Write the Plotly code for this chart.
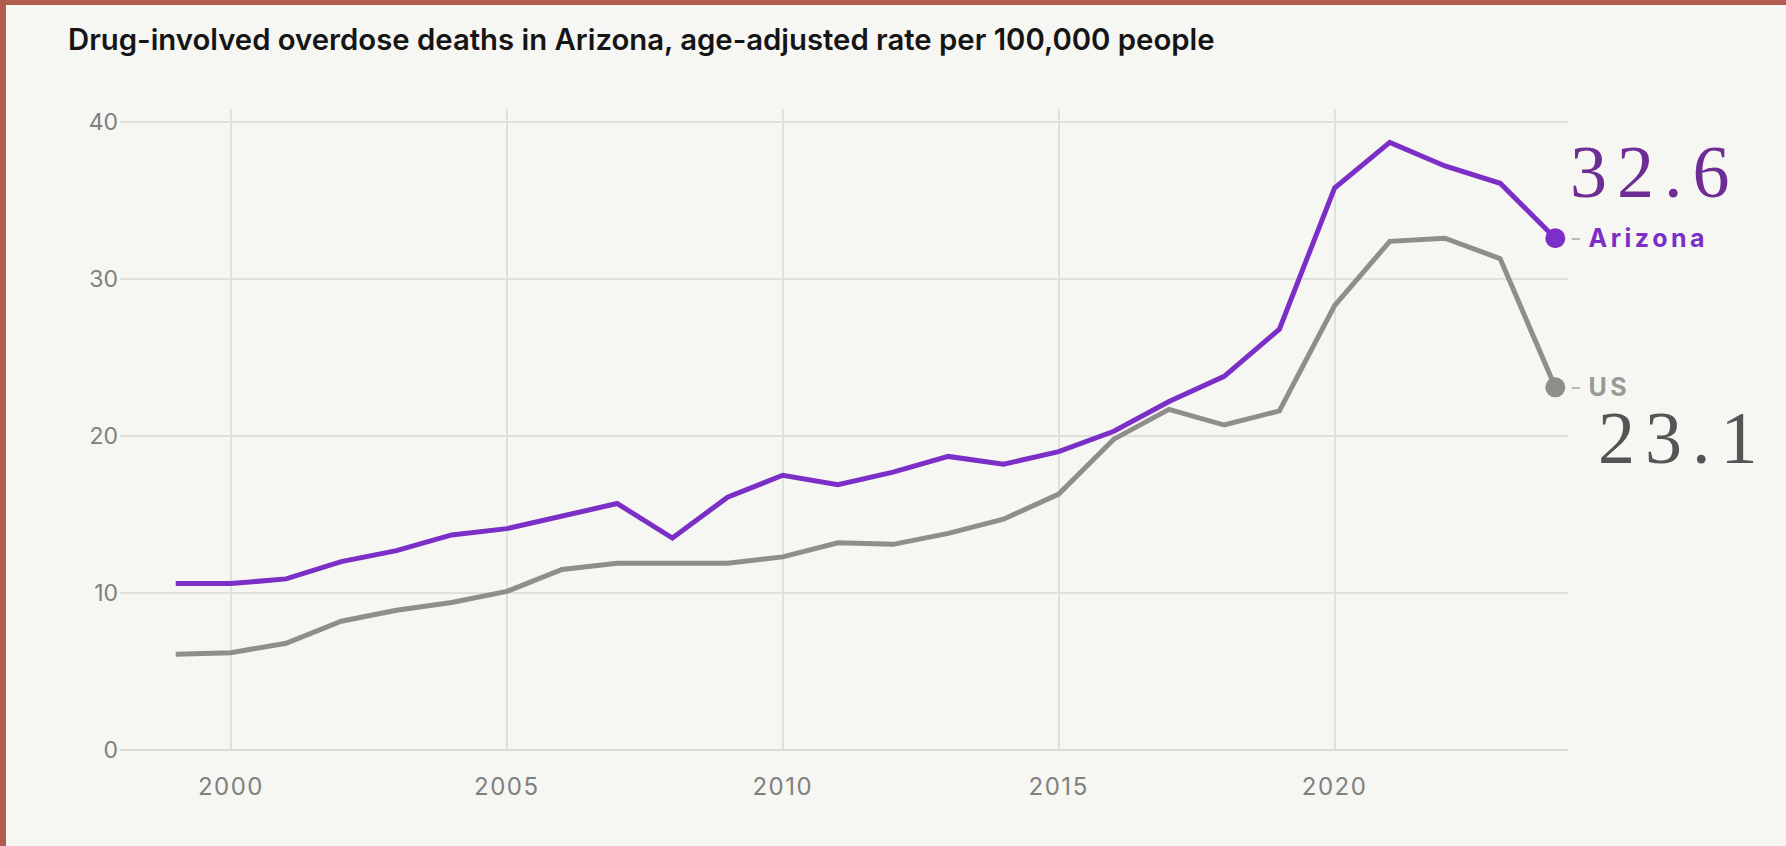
import plotly.graph_objects as go

# данные
years = list(range(1999, 2025))
arizona = [10.6, 10.6, 10.9, 12.0, 12.7, 13.7, 14.1, 14.9, 15.7, 13.5,
           16.1, 17.5, 16.9, 17.7, 18.7, 18.2, 19.0, 20.3, 22.2, 23.8,
           26.8, 35.8, 38.7, 37.2, 36.1, 32.6]
us = [6.1, 6.2, 6.8, 8.2, 8.9, 9.4, 10.1, 11.5, 11.9, 11.9,
      11.9, 12.3, 13.2, 13.1, 13.8, 14.7, 16.3, 19.8, 21.7, 20.7,
      21.6, 28.3, 32.4, 32.6, 31.3, 23.1]
x_ticks = [2000, 2005, 2010, 2015, 2020]
y_ticks = [0, 10, 20, 30, 40]
title = "Drug-involved overdose deaths in Arizona, age-adjusted rate per 100,000 people"

BG = "#f6f6f2"
BORDER = "#b15c4e"
PURPLE = "#7c2fc6"
GRAY = "#8e8e8a"
GRID = "#e1e1dc"
W, H = 1786, 846
L, R, T, B = 120, 218, 109, 96

fig = go.Figure()

for vals, color in [(us, GRAY), (arizona, PURPLE)]:
    fig.add_trace(go.Scatter(
        x=years, y=vals, mode="lines",
        line=dict(color=color, width=5), hoverinfo="x+y",
    ))
    fig.add_trace(go.Scatter(
        x=[years[-1]], y=[vals[-1]], mode="markers",
        marker=dict(color=color, size=20), hoverinfo="x+y", cliponaxis=False,
    ))

# подписи серий
labels = [
    (arizona, "Arizona", PURPLE, "#6e2c95", 100, 66),
    (us, "US", "#999996", "#555555", 128, -51),
]
for vals, name, c_name, c_val, dx, dy in labels:
    fig.add_annotation(
        x=years[-1], y=vals[-1], xref="x", yref="y", xshift=13, xanchor="left",
        text=f"<span style='color:#b8b8b4'>-</span> <b><span style='letter-spacing:3.5px'>{name}</span></b>",
        showarrow=False, font=dict(family="Inter", size=25, color=c_name),
    )
    fig.add_annotation(
        x=years[-1], y=vals[-1], xref="x", yref="y", xshift=dx, yshift=dy,
        text=f"<span style='letter-spacing:10px'>{vals[-1]:.1f}</span>",
        showarrow=False, font=dict(family="Liberation Serif", size=74, color=c_val),
    )

# рамка сверху и слева
pw, ph = W - L - R, H - T - B
fig.add_shape(type="rect", xref="paper", yref="paper", layer="below",
              x0=-L / pw - 0.01, x1=(W - L) / pw + 0.01, y0=(H - B - 5) / ph, y1=(H - B) / ph + 0.01,
              fillcolor=BORDER, line_width=0)
fig.add_shape(type="rect", xref="paper", yref="paper", layer="below",
              x0=-L / pw - 0.01, x1=(6 - L) / pw, y0=-B / ph - 0.01, y1=(H - B) / ph + 0.01,
              fillcolor=BORDER, line_width=0)

fig.update_layout(
    width=W, height=H, margin=dict(l=L, r=R, t=T, b=B),
    paper_bgcolor=BG, plot_bgcolor=BG, showlegend=False,
    font=dict(family="Inter", color="#7d7d7d"),
    title=dict(text=title, xref="container", yref="container", x=68 / W, xanchor="left",
               y=1 - 40 / H, yanchor="middle",
               font=dict(family="Inter", size=29.3, color="#151515", weight=600)),
)
fig.update_xaxes(
    range=[1997.99, 2024.23], tickvals=x_ticks,
    ticktext=[f"<span style='letter-spacing:1.5px'>{v}</span>" for v in x_ticks],
    showgrid=True, gridcolor=GRID, gridwidth=1.5, zeroline=False, showline=False,
    ticks="", ticklabelstandoff=20, tickfont=dict(size=24, color="#808080"),
)
fig.update_yaxes(
    range=[0, 40.83], tickvals=y_ticks, ticktext=[str(v) for v in y_ticks],
    showgrid=True, gridcolor=GRID, gridwidth=1.5, zeroline=True, zerolinecolor="#dcdcd6",
    zerolinewidth=2, showline=False, ticks="", ticklabelstandoff=1,
    tickfont=dict(size=23, color="#808080"),
)

fig.write_html(
    "out.html",
    config={"displayModeBar": False},
    post_script="document.body.style.margin='0';document.body.style.background='#f6f6f2';",
)
